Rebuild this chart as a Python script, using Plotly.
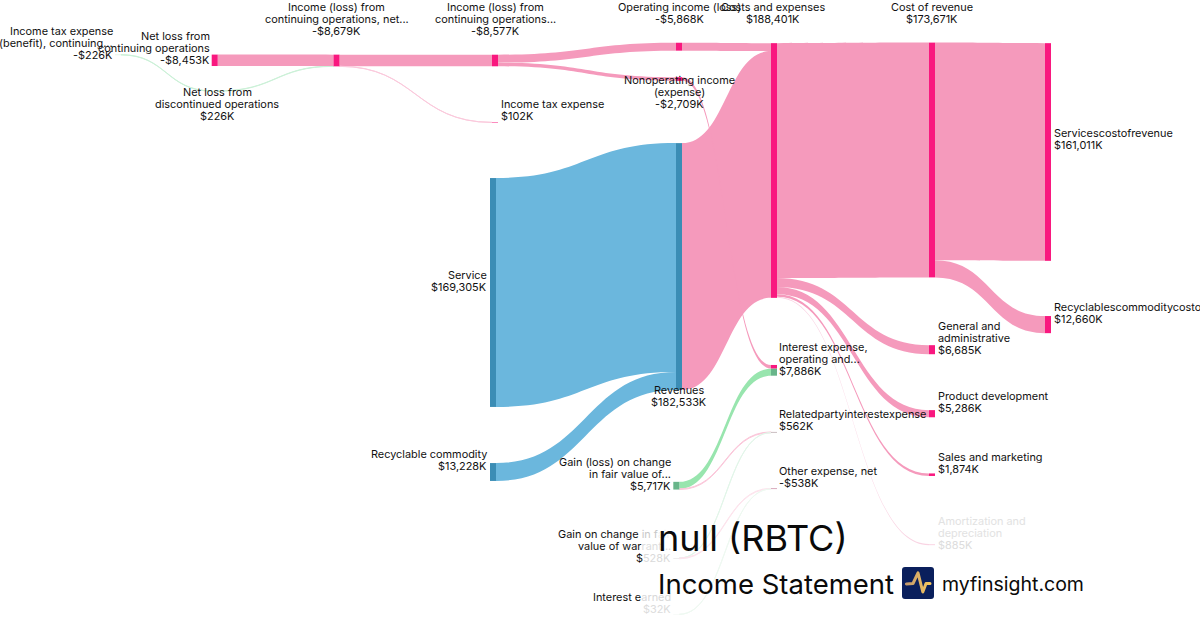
import base64
import plotly.graph_objects as go

W, H = 1200, 630

# ---- data ----
node_names = [
    "Income tax expense (benefit), continuing", "Net loss from discontinued operations",
    "Net loss from continuing operations", "Income (loss) from continuing operations, net",
    "Income (loss) from continuing operations before tax", "Income tax expense",
    "Operating income (loss)", "Nonoperating income (expense)", "Service", "Recyclable commodity",
    "Revenues", "Costs and expenses", "Cost of revenue", "Servicescostofrevenue",
    "Recyclablescommoditycostofrevenue", "General and administrative", "Product development",
    "Sales and marketing", "Amortization and depreciation", "Interest expense (nonoperating part)",
    "Interest expense (fair value part)", "Relatedpartyinterestexpense", "Other expense, net",
    "Gain (loss) on change in fair value", "Gain on change in fair value of warrants", "Interest earned",
]
link_sources = [0, 1, 2, 3, 3, 4, 4, 8, 9, 10, 6, 11, 11, 11, 11, 11, 12, 12, 7, 23, 23, 24, 24, 25]
link_targets = [1, 3, 3, 4, 5, 6, 7, 10, 10, 11, 11, 12, 15, 16, 17, 18, 13, 14, 19, 20, 21, 21, 22, 22]
link_values = [226, 226, 8453, 8577, 102, 5868, 2709, 169305, 13228, 182533, 5868,
               173671, 6685, 5286, 1874, 885, 161011, 12660, 2709, 5177, 540, 22, 506, 32]

PINK_NODE, PINK_LINK = "#f9187f", "#f59abc"
BLUE_NODE, BLUE_LINK = "#3b8db5", "#6bb7dd"
GREEN_NODE, GREEN_LINK = "#68b58a", "#98e5ae"
node_colors = [
    "#cdeed8", "#cdeed8", PINK_NODE, PINK_NODE, PINK_NODE, PINK_NODE, PINK_NODE, PINK_NODE,
    BLUE_NODE, BLUE_NODE, BLUE_NODE, PINK_NODE, PINK_NODE, PINK_NODE, PINK_NODE, PINK_NODE,
    PINK_NODE, PINK_NODE, "#fbdce8", PINK_NODE, GREEN_NODE, "#b9a9ae", "#c98aa4",
    GREEN_NODE, "#e6e6e6", "#f0f7f2",
]
link_colors = [
    "#ccf1d8", "#ccf1d8", PINK_LINK, PINK_LINK, "#fbc9dc", PINK_LINK, PINK_LINK, BLUE_LINK, BLUE_LINK,
    PINK_LINK, PINK_LINK, PINK_LINK, PINK_LINK, PINK_LINK, PINK_LINK, "#f9d4e3", PINK_LINK, PINK_LINK,
    PINK_LINK, GREEN_LINK, "#fbc7da", "#e2f6e9", "#fde4ed", "#eef9f1",
]

# node centres in pixels
node_px_x = [118, 215, 214.7, 336.5, 495, 495, 679, 679, 493, 493, 679, 774, 932, 1048, 1048,
             932, 932, 932, 932, 774, 774, 774, 774, 676.3, 676.3, 676.3]
node_px_y = [54.8, 91, 60.3, 60.5, 60.5, 122.4, 46.7, 79, 292.5, 472, 266.5, 170.5, 160, 152, 324.6,
             349.7, 413.7, 474.7, 544.6, 366.8, 372.2, 432.3, 488.7, 485.7, 558.4, 614.3]

DARK = "#111111"
# (lines, anchor, x, y of first line); a line may be split in (text, colour) runs
labels = [
    (["Income tax expense", "(benefit), continuing...", "-$226K"], "right", 113, 31),
    (["Net loss from", "continuing operations", "-$8,453K"], "right", 209.5, 36),
    (["Income (loss) from", "continuing operations, net...", "-$8,679K"], "center", 336.5, 7),
    (["Income (loss) from", "continuing operations...", "-$8,577K"], "center", 495, 7),
    (["Operating income (loss)", "-$5,868K"], "center", 679, 7),
    (["Costs and expenses", "$188,401K"], "center", 773, 7),
    (["Cost of revenue", "$173,671K"], "center", 932, 7),
    (["Servicescostofrevenue", "$161,011K"], "left", 1054, 133),
    (["Recyclablescommoditycostofrevenue", "$12,660K"], "left", 1054, 307),
    (["Net loss from", "discontinued operations", "$226K"], "center", 217, 92),
    (["Income tax expense", "$102K"], "left", 501, 104),
    (["Nonoperating income", "(expense)", "-$2,709K"], "center", 679, 80),
    (["Service", "$169,305K"], "right", 487, 275),
    (["Recyclable commodity", "$13,228K"], "right", 487, 454),
    (["Revenues", "$182,533K"], "center", 679, 390),
    (["Gain (loss) on change", "in fair value of...", "$5,717K"], "right", 671, 462),
    ([[("Gain on change", DARK), (" in f", "#c8c8c8"), ("air", "#efefef")],
      [("value of war", DARK), ("rant...", "#dddddd")],
      [("$", DARK), ("528K", "#dadada")]], "right", 671, 534),
    ([[("Interest e", DARK), ("arned", "#d8d8d8")], [("$32K", "#dcdcdc")]], "right", 671, 597),
    (["Interest expense,", "operating and...", "$7,886K"], "left", 779, 347),
    (["Relatedpartyinterestexpense", "$562K"], "left", 779, 414),
    (["Other expense, net", "-$538K"], "left", 779, 471),
    (["General and", "administrative", "$6,685K"], "left", 938, 326),
    (["Product development", "$5,286K"], "left", 938, 396),
    (["Sales and marketing", "$1,874K"], "left", 938, 457),
    ([[("Amortization and", "#e2e2e2")], [("depreciation", "#e2e2e2")], [("$885K", "#dcdcdc")]], "left", 938, 521),
]
LINE_H = 12
title_texts = [
    ("null (RBTC)", 658, 538, 36),
    ("Income Statement", 658, 584, 27.5),
    ("myfinsight.com", 942, 584, 19.5),
]

# ---- figure ----
fig = go.Figure(go.Sankey(
    arrangement="fixed",
    domain=dict(x=[0, 1], y=[0, 1]),
    node=dict(
        label=[""] * len(node_names),
        customdata=node_names,
        hovertemplate="%{customdata}<extra></extra>",
        x=[v / W for v in node_px_x],
        y=[v / H for v in node_px_y],
        color=node_colors,
        thickness=6,
        pad=36.3,
        line=dict(width=0),
    ),
    link=dict(
        source=link_sources,
        target=link_targets,
        value=link_values,
        color=link_colors,
        line=dict(width=0),
    ),
))

annotations = []
for lines, anchor, x, y0 in labels:
    for i, line in enumerate(lines):
        if isinstance(line, str):
            txt, col = line, DARK
        else:
            txt = "".join(f'<span style="color:{c}">{t}</span>' for t, c in line)
            col = line[0][1]
        annotations.append(dict(
            x=x / W, y=1 - (y0 + i * LINE_H) / H, xref="paper", yref="paper",
            text=txt, showarrow=False, xanchor=anchor, yanchor="middle", align=anchor,
            font=dict(family="Inter", size=10.9, color=col), borderpad=0, borderwidth=0,
        ))
for txt, x, y, size in title_texts:
    annotations.append(dict(
        x=x / W, y=1 - y / H, xref="paper", yref="paper", text=txt, showarrow=False,
        xanchor="left", yanchor="middle", font=dict(family="Inter", size=size, color="#0a0a0a"),
        borderpad=0, borderwidth=0,
    ))

logo_svg = (
    '<svg xmlns="http://www.w3.org/2000/svg" width="32" height="32" viewBox="0 0 32 32">'
    '<defs><linearGradient id="g" x1="0" x2="1" y1="0" y2="0">'
    '<stop offset="0" stop-color="#c49a6c"/><stop offset="1" stop-color="#f5c75f"/></linearGradient></defs>'
    '<rect width="32" height="32" rx="3" fill="#0a1f5c"/>'
    '<path d="M4.4 17 L11 16.5 L16 5.8 L20.8 25 L24 16.5 L28 16.5" fill="none" stroke="url(#g)" '
    'stroke-width="3" stroke-linejoin="round" stroke-linecap="round"/></svg>'
)
logo_uri = "data:image/svg+xml;base64," + base64.b64encode(logo_svg.encode()).decode()

fig.update_layout(
    width=W, height=H, margin=dict(l=0, r=0, t=0, b=0),
    paper_bgcolor="white", plot_bgcolor="white",
    font=dict(family="Inter"),
    annotations=annotations,
    images=[dict(source=logo_uri, xref="paper", yref="paper", x=902 / W, y=1 - 567 / H,
                 sizex=32 / W, sizey=32 / H, xanchor="left", yanchor="top", layer="above")],
)
fig.write_html("out.html", config={"displayModeBar": False},
               post_script="document.body.style.margin='0';document.body.style.overflow='hidden';")
